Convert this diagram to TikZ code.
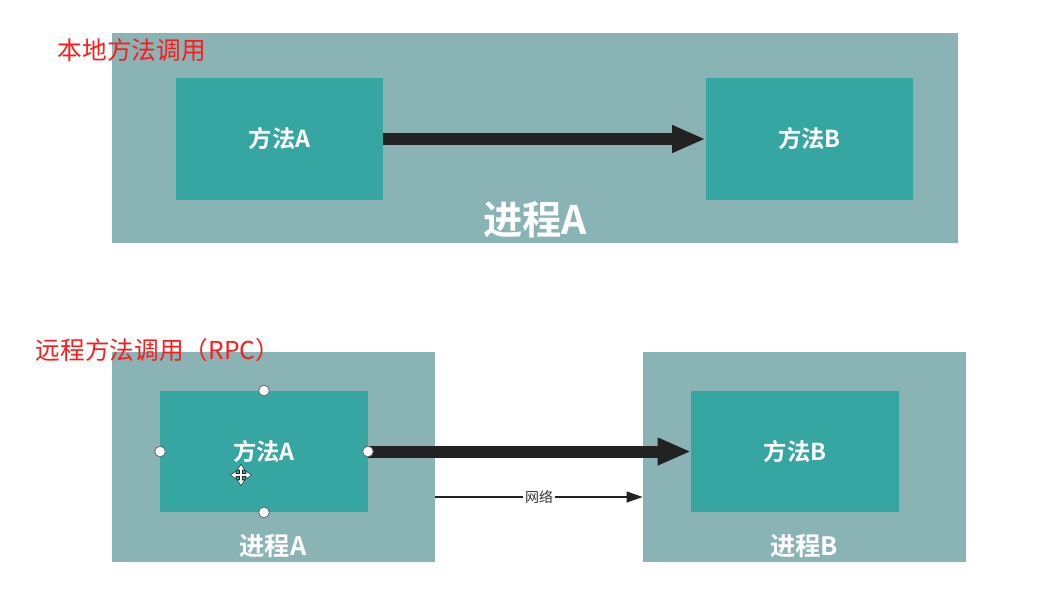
\documentclass[tikz,border=0pt]{standalone}
\usepackage{fontspec}
\setmainfont{Noto Sans CJK SC}[BoldFont={Noto Sans CJK SC Bold}]
\usepackage{tikz}
\usetikzlibrary{positioning}
\usetikzlibrary{arrows.meta,calc}
\definecolor{procgray}{HTML}{8AB3B5}
\definecolor{methteal}{HTML}{36A6A2}
\definecolor{arrowdark}{HTML}{222222}
\definecolor{titlered}{HTML}{FF1A1A}
\tikzset{bigline/.style={draw=arrowdark, line width=9pt, -{Triangle[length=25pt,width=19pt]}}}
\tikzset{netline/.style={draw=arrowdark, line width=1.4pt, -{Triangle[length=12pt,width=8pt]}}}

\begin{document}
\begin{tikzpicture}[x=0.75pt,y=-0.75pt]
\tikzstyle{process} = [rectangle, fill=procgray, inner sep=0pt]
\tikzstyle{method} = [rectangle, fill=methteal, text=white, font=\fontsize{17.5}{17.5}\selectfont\bfseries, minimum width=155.5pt, minimum height=91pt]
\tikzstyle{plabel} = [text=white, font=\bfseries]
\tikzstyle{title} = [text=titlered, font=\fontsize{18.5}{19}\selectfont, anchor=west]
\tikzstyle{handle} = [circle, draw=gray!80!black, fill=white, line width=0.6pt, minimum size=8pt, inner sep=0pt]
\useasboundingbox (0,0) rectangle (1052,599);

% local call
    \node [process, minimum width=634.5pt, minimum height=157.5pt] (local) at (535,138) {};
    \node [method] (mA) at (279.5,139) {方法A};
    \node [method] (mB) at (809.5,139) {方法B};
    \node [plabel, font=\fontsize{29.5}{29.5}\selectfont\bfseries] (lname) at (535,220) {进程A};
    \node [title] (ltitle) at (53,50) {本地方法调用};

% remote call
    \node [process, minimum width=242.25pt, minimum height=157.5pt] (pA) at (273.5,457) {};
    \node [process, minimum width=242.25pt, minimum height=157.5pt] (pB) at (804.5,457) {};
    \node [method] (rA) at (264,451.5) {方法A};
    \node [method] (rB) at (795,451.5) {方法B};
    \node [plabel, font=\fontsize{19}{19}\selectfont\bfseries] (nA) at (273,546) {进程A};
    \node [plabel, font=\fontsize{19}{19}\selectfont\bfseries] (nB) at (804,546) {进程B};
    \node [title] (rtitle) at (31,350) {远程方法调用（RPC）};

% arrows
    \path [bigline] (mA.east) -- (mB.west);
    \path [bigline] (rA.east) -- (rB.west);
    \path [netline] ([yshift=-30pt]pA.east) -- node [fill=white, text=black!80, inner sep=1.5pt, font=\fontsize{10.5}{11}\selectfont] (net) {网络} ([yshift=-30pt]pB.west);

% selection handles
    \node [handle] at (rA.north) {};
    \node [handle] at (rA.south) {};
    \node [handle] at (rA.west) {};
    \node [handle] at (rA.east) {};

% move cursor
    \coordinate (cur) at (241,475);
    \draw [arrowdark, line width=2.6pt, {Triangle[length=5pt,width=6.5pt]}-{Triangle[length=5pt,width=6.5pt]}] ($(cur)+(-11,0)$) -- ($(cur)+(11,0)$);
    \draw [arrowdark, line width=2.6pt, {Triangle[length=5pt,width=6.5pt]}-{Triangle[length=5pt,width=6.5pt]}] ($(cur)+(0,-11)$) -- ($(cur)+(0,11)$);
    \draw [white, line width=1pt, {Triangle[length=3.5pt,width=4.5pt]}-{Triangle[length=3.5pt,width=4.5pt]}] ($(cur)+(-10,0)$) -- ($(cur)+(10,0)$);
    \draw [white, line width=1pt, {Triangle[length=3.5pt,width=4.5pt]}-{Triangle[length=3.5pt,width=4.5pt]}] ($(cur)+(0,-10)$) -- ($(cur)+(0,10)$);
\end{tikzpicture}
\end{document}
